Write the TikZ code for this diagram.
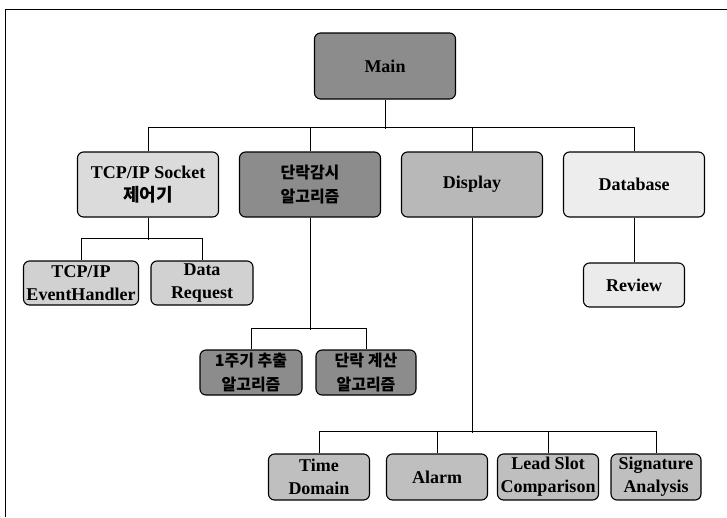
\documentclass[tikz,border=0pt]{standalone}
\usepackage{fontspec}
\setmainfont{Liberation Serif}
\newfontfamily\kr{Noto Sans CJK KR}
\begin{document}
\begin{tikzpicture}[x=1pt,y=-1pt,
  box/.style={draw, rounded corners=6pt, line width=1.1pt, align=center, inner sep=0pt,
    font=\bfseries\fontsize{18}{23}\selectfont},
  krbox/.style={box, font=\kr\bfseries\fontsize{16}{24}\selectfont},
  conn/.style={line width=0.9pt},
  frame/.style={line width=1pt}]
\useasboundingbox (0,0) rectangle (727,517);
\draw[frame] (5,517) -- (5,9) -- (727,9);
% level 1
\node[box, fill=black!45, minimum width=141pt, minimum height=66pt] (main) at (385,66) {Main};
% level 2
\node[box, fill=black!14, minimum width=141pt, minimum height=65pt] (tcp) at (148,184.5) {TCP/IP Socket\\{\kr 제어기}};
\node[krbox, fill=black!45, minimum width=141pt, minimum height=65pt] (dan) at (310,184.5) {단락감시\\알고리즘};
\node[box, fill=black!28, minimum width=141pt, minimum height=65pt] (disp) at (472,184.5) {Display};
\node[box, fill=black!7, minimum width=141pt, minimum height=65pt] (db) at (634,184.5) {Database};
% level 3
\node[box, fill=black!18, minimum width=115pt, minimum height=44pt] (evh) at (81,283) {TCP/IP\\EventHandler};
\node[box, fill=black!18, minimum width=102pt, minimum height=44pt] (dreq) at (202,283) {Data\\Request};
\node[krbox, fill=black!45, minimum width=102pt, minimum height=45pt] (cyc) at (251,372.5) {1주기 추출\\알고리즘};
\node[krbox, fill=black!45, minimum width=100pt, minimum height=45pt] (calc) at (366,372.5) {단락 계산\\알고리즘};
\node[box, fill=black!8, minimum width=101pt, minimum height=44pt] (rev) at (634,285) {Review};
% level 4
\node[box, fill=black!25, minimum width=101pt, minimum height=46pt] (td) at (319,477) {Time\\Domain};
\node[box, fill=black!25, minimum width=101pt, minimum height=46pt] (alarm) at (437,477) {Alarm};
\node[box, fill=black!25, minimum width=101pt, minimum height=46pt] (lead) at (548,477) {Lead Slot\\Comparison};
\node[box, fill=black!25, minimum width=90pt, minimum height=46pt] (sig) at (656,477) {Signature\\Analysis};
% connectors
\draw[conn] (main.south) -- ++(0,29);
\draw[conn] (tcp.north) -- ++(0,-24.5) -| (db.north);
\draw[conn] (dan.north) -- ++(0,-24.5);
\draw[conn] (disp.north) -- ++(0,-24.5);
\draw[conn] (tcp.south) -- ++(0,22) coordinate (tb);
\draw[conn] (evh.north) -- ++(0,-22) -| (dreq.north);
\draw[conn] (dan.south) -- ++(0,112);
\draw[conn] (cyc.north) -- ++(0,-21) -| (calc.north);
\draw[conn] (db.south) -- (rev.north);
\draw[conn] (disp.south) -- ++(0,215);
\draw[conn] (td.north) -- ++(0,-22) -| (sig.north);
\draw[conn] (alarm.north) -- ++(0,-22);
\draw[conn] (lead.north) -- ++(0,-22);
\end{tikzpicture}
\end{document}
